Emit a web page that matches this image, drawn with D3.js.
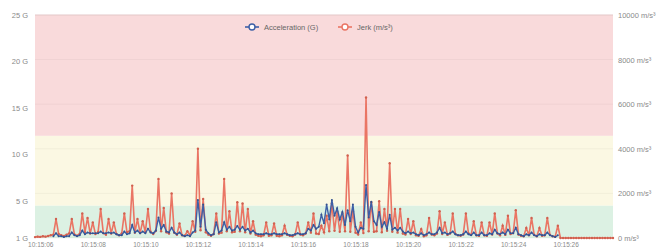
<!DOCTYPE html>
<html>
<head>
<meta charset="utf-8">
<script src="https://cdn.jsdelivr.net/npm/d3@7"></script>
<style>
    body { margin: 0; background: #fff; }
    #chart { width: 663px; height: 248px; }
    .axis text { font-family: "Liberation Sans", Arial, sans-serif; font-size: 7.5px; fill: #8a8a8a; }
    .x-axis text { font-size: 6.5px; }
    .axis path, .axis line { display: none; }
    .legend text { font-family: "Liberation Sans", Arial, sans-serif; font-size: 7.5px; fill: #666; }
</style>
</head>
<body>
<div id="chart"></div>
<script>

// Sampling: one reading every 0.1 s starting at 10:15:05.8
const startTime = "10:15:05.8";
const sampleStep = 0.1;

// Jerk (m/s³), one value per sample
const jerk = [
    40, 60, 50, 80, 60, 90, 120, 150, 850, 180,
    120, 90, 150, 200, 850, 160, 100, 180, 1100, 250,
    900, 200, 700, 180, 260, 1300, 220, 150, 850, 200,
    700, 180, 120, 200, 1100, 260, 300, 2350, 240, 850,
    220, 750, 260, 1300, 280, 180, 320, 2650, 300, 1350,
    260, 200, 2000, 240, 150, 650, 120, 100, 300, 120,
    750, 280, 4000, 350, 1750, 260, 150, 100, 180, 1100,
    200, 240, 2650, 300, 1200, 260, 280, 1600, 300, 1550,
    260, 1300, 200, 750, 150, 100, 80, 120, 700, 100,
    120, 650, 100, 80, 120, 550, 140, 100, 80, 150,
    700, 160, 120, 200, 700, 240, 1100, 200, 180, 550,
    260, 1000, 300, 1550, 320, 1200, 280, 1100, 300, 3700,
    280, 1200, 240, 160, 700, 220, 6300, 300, 1600, 280,
    300, 1650, 260, 1300, 320, 3350, 280, 1300, 240, 1300,
    200, 160, 850, 180, 750, 120, 100, 400, 80, 120,
    900, 160, 120, 200, 1200, 180, 700, 140, 200, 1100,
    180, 120, 100, 160, 1100, 200, 140, 750, 120, 100,
    700, 120, 100, 700, 160, 1100, 200, 120, 550, 140,
    1000, 180, 220, 1250, 160, 100, 80, 450, 120, 900,
    140, 80, 450, 100, 120, 900, 140, 80, 60, 550,
    0, 0, 0, 0, 0, 0, 0, 0, 0, 0,
    0, 0, 0, 0, 0, 0, 0, 0, 0, 0,
    0
];

// Acceleration (G), one value per sample (no reading before / after the run)
const accel = [
    null, null, null, null, null, null, null, 1.2, 1.5, 1.2,
    1.2, 1.1, 1.2, 1.2, 1.6, 1.3, 1.2, 1.3, 1.8, 1.4,
    1.6, 1.5, 1.5, 1.5, 1.5, 1.7, 1.5, 1.5, 1.6, 1.5,
    1.6, 1.4, 1.3, 1.3, 1.7, 1.4, 1.5, 2.4, 1.6, 1.8,
    1.5, 1.7, 1.5, 2.0, 1.6, 1.5, 1.8, 3.2, 2.0, 2.4,
    1.7, 1.6, 2.1, 1.6, 1.4, 1.6, 1.3, 1.2, 1.3, 1.2,
    1.6, 1.8, 5.1, 2.2, 4.6, 1.9, 1.5, 1.3, 1.4, 2.7,
    1.6, 1.8, 2.7, 1.9, 2.2, 1.8, 1.9, 2.3, 1.9, 2.2,
    1.8, 2.0, 1.6, 1.8, 1.5, 1.4, 1.4, 1.4, 1.5, 1.4,
    1.4, 1.5, 1.4, 1.4, 1.4, 1.5, 1.4, 1.3, 1.3, 1.4,
    1.5, 1.4, 1.4, 1.5, 2.0, 1.8, 2.4, 2.0, 2.2, 3.5,
    2.6, 4.6, 3.0, 5.1, 3.4, 4.2, 3.0, 3.8, 2.4, 4.0,
    2.8, 4.6, 2.2, 1.6, 2.1, 2.0, 6.7, 3.2, 4.9, 2.8,
    2.4, 3.8, 2.2, 2.7, 2.0, 3.5, 1.9, 2.1, 1.8, 2.1,
    1.7, 1.5, 1.7, 1.5, 1.6, 1.4, 1.3, 1.5, 1.3, 1.4,
    1.6, 1.4, 1.4, 1.6, 2.1, 1.5, 1.6, 1.4, 1.5, 1.7,
    1.4, 1.3, 1.3, 1.4, 1.7, 1.4, 1.3, 1.6, 1.3, 1.3,
    1.6, 1.3, 1.3, 1.5, 1.4, 1.9, 1.5, 1.4, 1.6, 1.4,
    1.9, 1.5, 1.5, 2.1, 1.4, 1.3, 1.2, 1.4, 1.3, 1.6,
    1.3, 1.2, 1.4, 1.3, 1.3, 1.6, 1.3, 1.2, 1.1, 1.3
];

// Axis ticks
const accelTicks = [1, 5, 10, 15, 20, 25];
const jerkTicks = [0, 2000, 4000, 6000, 8000, 10000];

// Zone limits on the acceleration axis (G): safe / caution / danger
const zoneLimits = [1, 4.5, 12, 25];

const legendLabels = ["Acceleration (G)", "Jerk (m/s³)"];


class SensorChart {

    constructor(parentElement) {
        this.parentElement = parentElement;
        this.parseTime = d3.timeParse("%H:%M:%S.%L");
        this.formatTime = d3.timeFormat("%H:%M:%S");

        this.accelColor = "#3d5fa6";
        this.jerkColor = "#ea7564";
        this.zoneColors = ["#dcf1e3", "#fbf8e3", "#f9dadb"];

        this.initVis();
    }

    initVis() {
        let vis = this;

        vis.margin = {top: 15, right: 50, bottom: 10, left: 35};
        vis.width = 663 - vis.margin.left - vis.margin.right;
        vis.height = 248 - vis.margin.top - vis.margin.bottom;

        vis.svg = d3.select("#" + vis.parentElement).append("svg")
            .attr("width", 663)
            .attr("height", 248)
            .append("g")
            .attr("transform", "translate(" + vis.margin.left + "," + vis.margin.top + ")");

        // Scales
        vis.x = d3.scaleTime().range([0, vis.width]);
        vis.yAccel = d3.scaleLinear().domain([1, 25]).range([vis.height, 0]);
        vis.yJerk = d3.scaleLinear().domain([0, 10000]).range([vis.height, 0]);

        vis.wrangleData();
    }

    wrangleData() {
        let vis = this;

        let t0 = vis.parseTime(startTime + "00");
        vis.displayData = jerk.map((j, i) => ({
            time: new Date(t0.getTime() + Math.round(i * sampleStep * 1000)),
            jerk: j,
            accel: accel[i] == null ? null : accel[i]
        }));

        vis.accelData = vis.displayData.filter(d => d.accel !== null);

        vis.updateVis();
    }

    updateVis() {
        let vis = this;

        vis.x.domain(d3.extent(vis.displayData, d => d.time));

        // Colored zones
        vis.svg.selectAll(".zone")
            .data(d3.pairs(zoneLimits))
            .enter().append("rect")
            .attr("class", "zone")
            .attr("x", 0)
            .attr("width", vis.width)
            .attr("y", d => vis.yAccel(d[1]))
            .attr("height", d => vis.yAccel(d[0]) - vis.yAccel(d[1]))
            .attr("fill", (d, i) => vis.zoneColors[i]);

        // Grid lines
        vis.svg.selectAll(".grid")
            .data(jerkTicks)
            .enter().append("line")
            .attr("class", "grid")
            .attr("x1", 0)
            .attr("x2", vis.width)
            .attr("y1", d => vis.yJerk(d))
            .attr("y2", d => vis.yJerk(d))
            .attr("stroke", d => d === 10000 ? "#e3c7c8" : "rgba(0,0,0,0.04)")
            .attr("stroke-width", 1);

        // Axes
        vis.svg.append("g")
            .attr("class", "axis")
            .call(d3.axisLeft(vis.yAccel).tickValues(accelTicks).tickSize(0).tickPadding(7)
                .tickFormat(d => d + " G"));

        vis.svg.append("g")
            .attr("class", "axis")
            .attr("transform", "translate(" + vis.width + ",0)")
            .call(d3.axisRight(vis.yJerk).tickValues(jerkTicks).tickSize(0).tickPadding(5)
                .tickFormat(d => d + " m/s³"));

        vis.svg.append("g")
            .attr("class", "axis x-axis")
            .attr("transform", "translate(0," + vis.height + ")")
            .call(d3.axisBottom(vis.x).ticks(d3.timeSecond.every(2)).tickSize(0).tickPadding(4)
                .tickFormat(vis.formatTime));

        // Lines
        let jerkLine = d3.line()
            .x(d => vis.x(d.time))
            .y(d => vis.yJerk(d.jerk));

        let accelLine = d3.line()
            .x(d => vis.x(d.time))
            .y(d => vis.yAccel(d.accel));

        vis.svg.append("path")
            .datum(vis.displayData)
            .attr("fill", "none")
            .attr("stroke", vis.jerkColor)
            .attr("stroke-width", 1.6)
            .attr("d", jerkLine);

        vis.svg.selectAll(".jerk-dot")
            .data(vis.displayData)
            .enter().append("circle")
            .attr("class", "jerk-dot")
            .attr("cx", d => vis.x(d.time))
            .attr("cy", d => vis.yJerk(d.jerk))
            .attr("r", 1.2)
            .attr("fill", "#d0604f");

        vis.svg.append("path")
            .datum(vis.accelData)
            .attr("fill", "none")
            .attr("stroke", vis.accelColor)
            .attr("stroke-width", 1.4)
            .attr("d", accelLine);

        vis.svg.selectAll(".accel-dot")
            .data(vis.accelData)
            .enter().append("circle")
            .attr("class", "accel-dot")
            .attr("cx", d => vis.x(d.time))
            .attr("cy", d => vis.yAccel(d.accel))
            .attr("r", 1)
            .attr("fill", "#34528f");

        // Legend
        let legend = vis.svg.append("g")
            .attr("class", "legend")
            .attr("transform", "translate(210,12)");

        let items = [
            {label: legendLabels[0], color: vis.accelColor, x: 0},
            {label: legendLabels[1], color: vis.jerkColor, x: 93}
        ];

        items.forEach(item => {
            let g = legend.append("g").attr("transform", "translate(" + item.x + ",0)");
            g.append("line")
                .attr("x1", 0).attr("x2", 14)
                .attr("stroke", item.color)
                .attr("stroke-width", 1.6);
            g.append("circle")
                .attr("cx", 7)
                .attr("r", 3)
                .attr("fill", "#fff")
                .attr("stroke", item.color)
                .attr("stroke-width", 1.4);
            g.append("text")
                .attr("x", 19)
                .attr("dy", "0.35em")
                .text(item.label);
        });
    }
}

new SensorChart("chart");

</script>
</body>
</html>
